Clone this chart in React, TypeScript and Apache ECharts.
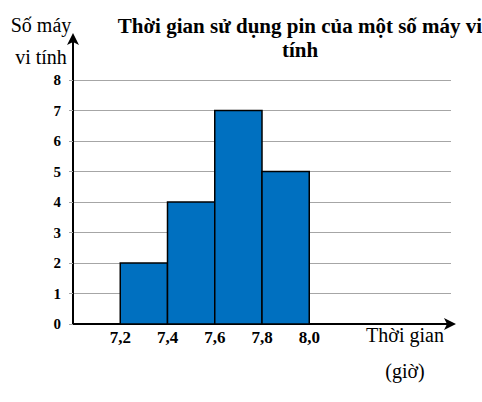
import React, { useEffect, useRef } from "react";
import * as echarts from "echarts";

const binEdges = [7.2, 7.4, 7.6, 7.8, 8.0];
const counts = [2, 4, 7, 5];
const yTicks = [0, 1, 2, 3, 4, 5, 6, 7, 8];

const FONT = "Liberation Serif";

export default function App() {
  const ref = useRef<HTMLDivElement>(null);
  useEffect(() => {
    if (!ref.current) return;
    const chart = echarts.init(ref.current, null, { renderer: "svg" });
    const bins = counts.map((c, i) => [binEdges[i], binEdges[i + 1], c]);
    const left = 73;
    const right = 31;
    const bottom = 78;
    chart.setOption({
      animation: false,
      backgroundColor: "#ffffff",
      textStyle: { fontFamily: FONT },
      title: [
        {
          text: "Thời gian sử dụng pin của một số máy vi\ntính",
          left: 295,
          top: 9,
          textAlign: "center",
          textStyle: {
            fontFamily: FONT,
            fontWeight: "bold",
            fontSize: 21,
            lineHeight: 24,
            color: "#000",
          },
        },
        {
          text: "Số máy\nvi tính",
          left: 36,
          top: 4,
          textAlign: "center",
          textStyle: {
            fontFamily: FONT,
            fontWeight: "normal",
            fontSize: 20,
            lineHeight: 32,
            color: "#000",
          },
        },
        {
          text: "Thời gian\n(giờ)",
          left: 400,
          top: 312,
          textAlign: "center",
          textStyle: {
            fontFamily: FONT,
            fontWeight: "normal",
            fontSize: 20,
            lineHeight: 36,
            color: "#000",
          },
        },
      ],
      grid: [
        { left, right, top: 80, bottom },
        { left, right, top: 37, bottom },
      ],
      xAxis: [
        {
          type: "value",
          gridIndex: 0,
          min: 7.0,
          max: 8.6,
          interval: 0.2,
          splitLine: { show: false },
          axisTick: { show: false },
          axisLine: {
            show: true,
            lineStyle: { color: "#000", width: 2 },
            symbol: ["none", "arrow"],
            symbolSize: [9, 12],
            symbolOffset: [0, 5],
          },
          axisLabel: {
            margin: 5,
            fontFamily: FONT,
            fontWeight: "bold",
            fontSize: 17,
            color: "#000",
            formatter: (v: number) => {
              const r = Math.round(v * 10) / 10;
              return binEdges.some((e) => Math.abs(e - r) < 1e-6)
                ? r.toFixed(1).replace(".", ",")
                : "";
            },
          },
        },
        {
          type: "value",
          gridIndex: 1,
          show: false,
          min: 0,
          max: 1,
        },
      ],
      yAxis: [
        {
          type: "value",
          gridIndex: 0,
          min: yTicks[0],
          max: yTicks[yTicks.length - 1],
          interval: 1,
          axisLine: { show: false },
          axisTick: {
            show: true,
            length: 4,
            lineStyle: { color: "#a6a6a6", width: 1 },
          },
          splitLine: {
            show: true,
            lineStyle: { color: "#a6a6a6", width: 1 },
          },
          axisLabel: {
            margin: 12,
            fontFamily: FONT,
            fontWeight: "bold",
            fontSize: 15,
            color: "#000",
          },
        },
        {
          type: "value",
          gridIndex: 1,
          min: 0,
          max: 1,
          axisLine: {
            show: true,
            lineStyle: { color: "#000", width: 2 },
            symbol: ["none", "arrow"],
            symbolSize: [9, 12],
            symbolOffset: [0, 4],
          },
          axisTick: { show: false },
          axisLabel: { show: false },
          splitLine: { show: false },
        },
      ],
      series: [
        {
          type: "custom",
          xAxisIndex: 0,
          yAxisIndex: 0,
          data: bins,
          encode: { x: [0, 1], y: 2 },
          renderItem: (params: any, api: any) => {
            const p0 = api.coord([api.value(0), 0]);
            const p1 = api.coord([api.value(1), api.value(2)]);
            return {
              type: "rect",
              shape: {
                x: p0[0],
                y: p1[1],
                width: p1[0] - p0[0],
                height: p0[1] - p1[1],
              },
              style: {
                fill: "#0070C0",
                stroke: "#000",
                lineWidth: 1.5,
              },
            };
          },
        },
      ],
    });
    return () => chart.dispose();
  }, []);
  return <div ref={ref} style={{ width: 482, height: 402, position: "absolute", left: 0, top: 0 }} />;
}
